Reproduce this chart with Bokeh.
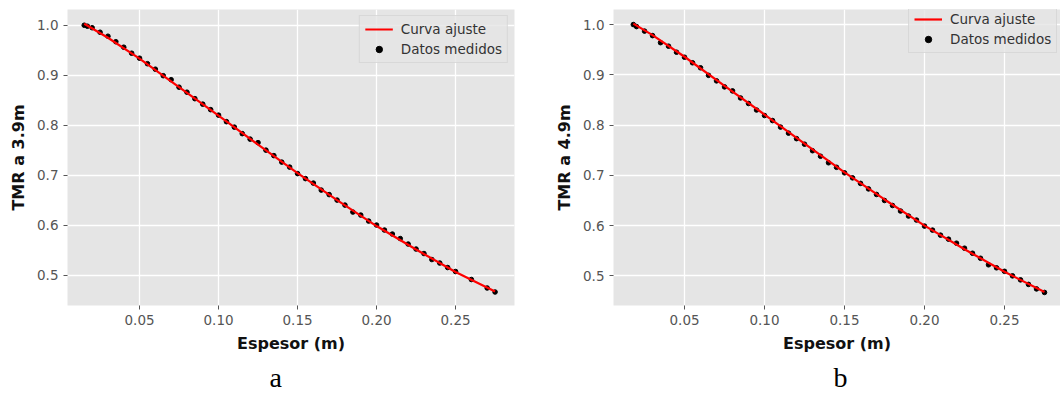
from bokeh.plotting import figure
from bokeh.layouts import row
from bokeh.models import FixedTicker, PrintfTickFormatter, Title, Range1d
from bokeh.embed import file_html
from bokeh.resources import INLINE

# ---------------- data: panel a (TMR at 3.9 m) ----------------
espesor_a = [0.015, 0.017, 0.020, 0.025, 0.030, 0.035, 0.040, 0.045, 0.050, 0.055,
             0.060, 0.065, 0.070, 0.075, 0.080, 0.085, 0.090, 0.095, 0.100, 0.105,
             0.110, 0.115, 0.120, 0.125, 0.130, 0.135, 0.140, 0.145, 0.150, 0.155,
             0.160, 0.165, 0.170, 0.175, 0.180, 0.185, 0.190, 0.195, 0.200, 0.205,
             0.210, 0.215, 0.220, 0.225, 0.230, 0.235, 0.240, 0.245, 0.250, 0.260,
             0.270, 0.275]
tmr_a = [1.000, 0.998, 0.995, 0.986, 0.978, 0.967, 0.956, 0.944, 0.934, 0.923,
         0.912, 0.899, 0.891, 0.876, 0.866, 0.853, 0.842, 0.831, 0.820, 0.807,
         0.796, 0.783, 0.772, 0.765, 0.750, 0.739, 0.726, 0.716, 0.703, 0.693,
         0.684, 0.670, 0.661, 0.650, 0.640, 0.626, 0.620, 0.608, 0.600, 0.590,
         0.582, 0.573, 0.562, 0.552, 0.543, 0.531, 0.524, 0.515, 0.507, 0.491,
         0.474, 0.466]
ajuste_x_a = [0.015, 0.030, 0.050, 0.075, 0.100, 0.125, 0.150, 0.175, 0.200, 0.225, 0.250, 0.275]
ajuste_y_a = [1.003, 0.975, 0.933, 0.876, 0.819, 0.761, 0.704, 0.650, 0.598, 0.551, 0.506, 0.467]

# ---------------- data: panel b (TMR at 4.9 m) ----------------
espesor_b = [0.018, 0.020, 0.025, 0.030, 0.035, 0.040, 0.045, 0.050, 0.055, 0.060,
             0.065, 0.070, 0.075, 0.080, 0.085, 0.090, 0.095, 0.100, 0.105, 0.110,
             0.115, 0.120, 0.125, 0.130, 0.135, 0.140, 0.145, 0.150, 0.155, 0.160,
             0.165, 0.170, 0.175, 0.180, 0.185, 0.190, 0.195, 0.200, 0.205, 0.210,
             0.215, 0.220, 0.225, 0.230, 0.235, 0.240, 0.245, 0.250, 0.255, 0.260,
             0.265, 0.270, 0.275]
tmr_b = [1.000, 0.996, 0.987, 0.978, 0.964, 0.957, 0.945, 0.935, 0.924, 0.914,
         0.899, 0.888, 0.876, 0.868, 0.854, 0.843, 0.830, 0.819, 0.809, 0.796,
         0.784, 0.773, 0.762, 0.749, 0.738, 0.725, 0.716, 0.705, 0.695, 0.684,
         0.673, 0.662, 0.650, 0.640, 0.629, 0.619, 0.611, 0.599, 0.591, 0.581,
         0.573, 0.565, 0.555, 0.545, 0.535, 0.522, 0.516, 0.509, 0.500, 0.492,
         0.483, 0.474, 0.467]
ajuste_x_b = [0.018, 0.030, 0.050, 0.075, 0.100, 0.125, 0.150, 0.175, 0.200, 0.225, 0.250, 0.275]
ajuste_y_b = [1.002, 0.979, 0.936, 0.878, 0.821, 0.763, 0.706, 0.652, 0.600, 0.553, 0.508, 0.468]

x_ticks = [0.05, 0.10, 0.15, 0.20, 0.25]
y_ticks = [0.5, 0.6, 0.7, 0.8, 0.9, 1.0]

BG = "#E5E5E5"
TICK_FONT = "DejaVu Sans"


def make_panel(xs, ys, fx, fy, ylabel, letter, x_range, y_range,
               border_left, border_top, border_right, letter_offset, legend_loc):
    p = figure(width=530, height=396, output_backend="svg", toolbar_location=None,
               x_range=Range1d(*x_range), y_range=Range1d(*y_range),
               min_border_left=border_left, min_border_top=border_top,
               min_border_right=border_right, min_border_bottom=90)
    p.background_fill_color = BG
    p.border_fill_color = "white"
    p.outline_line_color = None

    p.grid.grid_line_color = "white"
    p.grid.grid_line_width = 1.3

    p.xaxis.ticker = FixedTicker(ticks=x_ticks)
    p.yaxis.ticker = FixedTicker(ticks=y_ticks)
    p.xaxis.formatter = PrintfTickFormatter(format="%.2f")
    p.yaxis.formatter = PrintfTickFormatter(format="%.1f")

    for ax in (p.xaxis, p.yaxis):
        ax.axis_line_color = None
        ax.major_tick_line_color = "#555555"
        ax.major_tick_out = 4
        ax.major_tick_in = 0
        ax.minor_tick_line_color = None
        ax.major_label_text_color = "#555555"
        ax.major_label_text_font = TICK_FONT
        ax.major_label_text_font_size = "13.5px"
        ax.major_label_standoff = 5
        ax.axis_label_text_font = TICK_FONT
        ax.axis_label_text_font_style = "bold"
        ax.axis_label_text_font_size = "16px"
        ax.axis_label_text_color = "#111111"
        ax.axis_label_standoff = 6

    p.xaxis.axis_label = "Espesor (m)"
    p.yaxis.axis_label = ylabel

    p.scatter(xs, ys, size=4.6, fill_color="black", line_color="black",
              legend_label="Datos medidos")
    p.line(fx, fy, line_color="#FF0000", line_width=2.2, legend_label="Curva ajuste")

    lg = p.legend[0]
    lg.items = [lg.items[1], lg.items[0]]
    lg.location = legend_loc
    lg.margin = 6
    lg.padding = 5
    lg.spacing = 4
    lg.glyph_width = 28
    lg.glyph_height = 16
    lg.label_height = 16
    lg.label_standoff = 8
    lg.label_text_font = TICK_FONT
    lg.label_text_font_size = "13.5px"
    lg.label_text_color = "#333333"
    lg.background_fill_color = BG
    lg.background_fill_alpha = 0.8
    lg.border_line_color = "#CCCCCC"
    lg.border_line_width = 1

    p.add_layout(Title(text=letter, align="left", offset=letter_offset,
                       text_font="Liberation Serif", text_font_size="28px",
                       text_font_style="normal", text_color="#000000",
                       standoff=8), "below")
    return p


p1 = make_panel(espesor_a, tmr_a, ajuste_x_a, ajuste_y_a, "TMR a 3.9m", "a",
                (0.0044, 0.2873), (0.439, 1.0315), 67, 5, 16, 202, "top_right")
p2 = make_panel(espesor_b, tmr_b, ajuste_x_b, ajuste_y_b, "TMR a 4.9m", "b",
                (0.0056, 0.285), (0.441, 1.030), 83, 9, 0, 220, (295, 252))

layout = row(p1, p2)
open("out.html", "w").write(file_html(layout, INLINE))
